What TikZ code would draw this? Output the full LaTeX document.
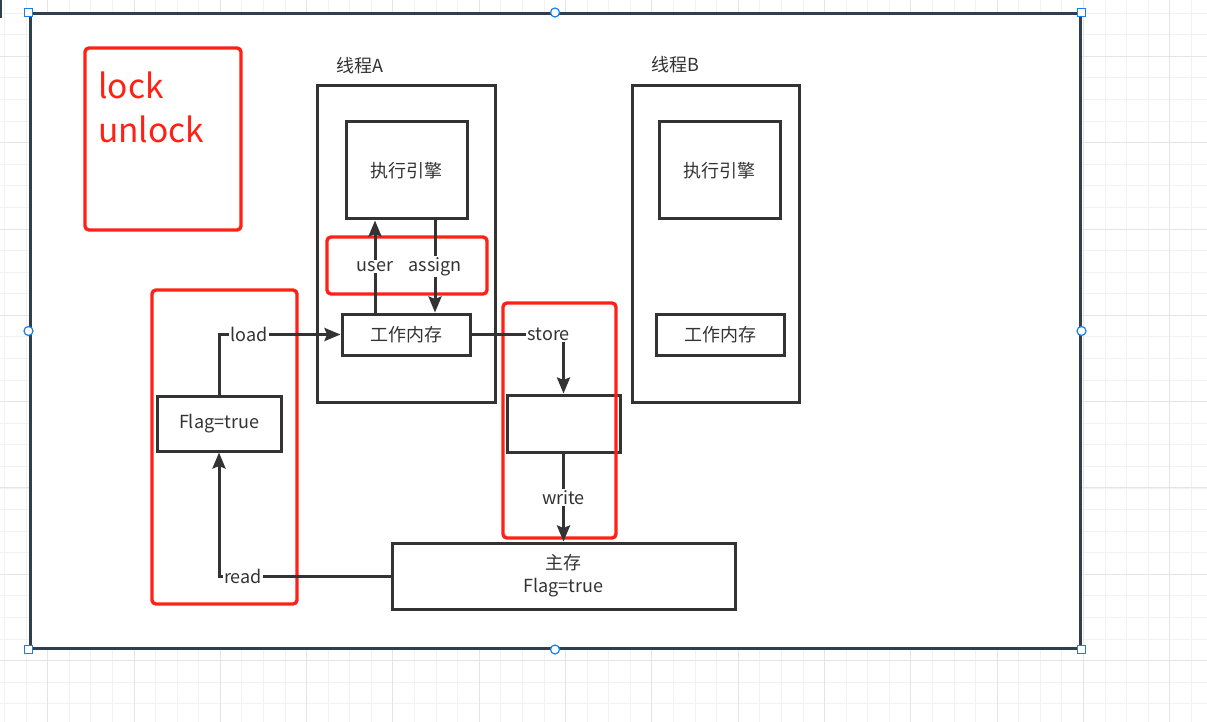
\documentclass[tikz,border=0pt]{standalone}
\usepackage{fontspec}
\setmainfont{Noto Sans CJK SC}
\usetikzlibrary{arrows.meta,positioning,calc}
\definecolor{MemGray}{HTML}{333333}
\definecolor{MemRed}{HTML}{FF2116}
\definecolor{FrameSlate}{HTML}{2F3F50}
\definecolor{HandleBlue}{HTML}{1A7FE8}
\definecolor{GridMinor}{HTML}{F2F2F2}
\definecolor{GridMajor}{HTML}{E4E4E4}

\begin{document}
\begin{tikzpicture}[
    x=1pt,y=-1pt,
    font=\fontsize{18}{21}\selectfont,
    dims/.style 2 args={minimum width=#1,minimum height=#2},
    box/.style={draw=MemGray,line width=3pt,inner sep=0pt,text=MemGray},
    frame/.style={draw=FrameSlate,fill=white,line width=3pt,inner sep=0pt},
    redbox/.style={draw=MemRed,line width=3.4pt,rounded corners=4pt,inner sep=0pt},
    title/.style={text=MemGray,inner sep=0pt},
    lbl/.style={fill=white,inner sep=1.5pt,text=MemGray},
    link/.style={line width=3pt,draw=MemGray},
    arrow/.style={link,-{Stealth[length=16pt,width=13pt,inset=2.5pt]}},
    handle/.style={draw=HandleBlue,fill=white,line width=1.2pt,minimum size=8pt,inner sep=0pt}
  ]
  \useasboundingbox (0,0) rectangle (1207,722);

  % grid behind the canvas
  \foreach \k in {0,...,55}
    \draw[GridMinor,line width=1pt] ({4.54+21.58*\k},0) -- ({4.54+21.58*\k},722);
  \foreach \k in {0,...,33}
    \draw[GridMinor,line width=1pt] (0,{13.24+21.58*\k}) -- (1207,{13.24+21.58*\k});
  \foreach \k in {0,...,13}
    \draw[GridMajor,line width=1pt] ({47.7+86.3*\k},0) -- ({47.7+86.3*\k},722);
  \foreach \k in {0,...,7}
    \draw[GridMajor,line width=1pt] (0,{56.4+86.3*\k}) -- (1207,{56.4+86.3*\k});
  \fill[FrameSlate] (0,0) rectangle (2,18);

  % canvas with selection handles
  \node[frame,dims={1050}{634}] (canvas) at (555,331) {};
  \foreach \a/\n in {north west/nw,north east/ne,south west/sw,south east/se}
    \node[handle] (h\n) at (canvas.\a) {};
  \foreach \a/\n in {north/n,south/s,east/e,west/w}
    \node[handle,circle,minimum size=9pt] (h\n) at (canvas.\a) {};

  % lock / unlock
  \node[redbox,dims={156}{182}] (lockbox) at (163,139) {};
  \node[anchor=north west,inner sep=0pt,text=MemRed,align=left,
        font=\fontsize{33.5}{43.4}\selectfont] (locktext) at (98,72) {lock\\unlock};

  % threads
  \node[box,dims={178}{316}] (threadA) at (406,244) {};
  \node[box,dims={167}{316}] (threadB) at (715.5,244) {};
  \node[title] (titleA) at (360,66) {线程A};
  \node[title] (titleB) at (675,65) {线程B};

  \node[box,dims={121}{97}] (engineA) at (406.5,170.5) {执行引擎};
  \node[box,dims={121}{97}] (engineB) at (719.5,170.5) {执行引擎};
  \node[box,dims={128}{41}] (wmA) at (406,334.5) {工作内存};
  \node[box,dims={128}{41}] (wmB) at (720,334.5) {工作内存};

  % left column
  \node[box,dims={124}{55}] (flag) at (219,423.5) {Flag=true};
  \node[box,dims={113}{57}] (buffer) at (563.5,423.5) {};
  \node[box,dims={343}{66},align=center,font=\fontsize{18}{23}\selectfont] (mainmem) at (563.5,576) {主存\\Flag=true};

  % red highlights
  \node[redbox,dims={160}{57}] (opsred) at (407,265.5) {};
  \node[redbox,dims={145}{314}] (readred) at (224.5,447) {};
  \node[redbox,dims={113}{235}] (storered) at (559.5,420.5) {};

  % connectors
  \draw[arrow] ([xshift=-31pt]wmA.north) -- ([xshift=-31pt]wmA.north |- engineA.south)
    node[lbl,midway] {user};
  \draw[arrow] ([xshift=28.5pt]engineA.south) -- ([xshift=28.5pt]engineA.south |- wmA.north)
    node[lbl,midway] {assign};
  \draw[arrow] (flag.north) |- (wmA.west) node[lbl,pos=0.625] {load};
  \draw[arrow] (mainmem.west) -| (flag.south) node[lbl,pos=0.43] {read};
  \draw[arrow] (wmA.east) -| (buffer.north) node[lbl,pos=0.42] {store};
  \draw[arrow] (buffer.south) -- (mainmem.north) node[lbl,midway] {write};
\end{tikzpicture}
\end{document}
